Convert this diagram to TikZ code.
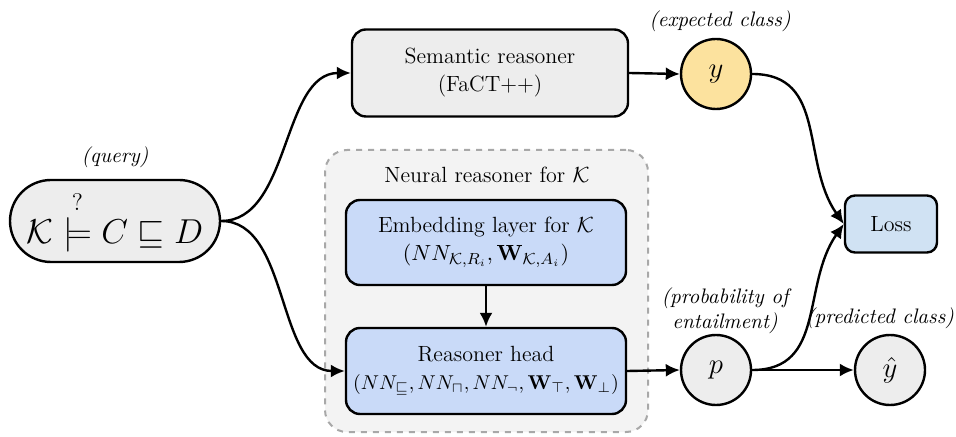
\documentclass[tikz,border=0pt]{standalone}
\usepackage{amsmath,amssymb}
\usetikzlibrary{arrows.meta,positioning}
\definecolor{boxgray}{HTML}{EDEDED}
\definecolor{contgray}{HTML}{F3F3F3}
\definecolor{dashgray}{HTML}{A8A8A8}
\definecolor{bluebox}{HTML}{C9DAF8}
\definecolor{lossblue}{HTML}{D0E2F3}
\definecolor{yellowc}{HTML}{FCE29E}
\begin{document}
\begin{tikzpicture}[x=0.5pt,y=-0.5pt,
  font=\fontsize{11}{13}\selectfont,
  every node/.style={inner sep=0pt},
  box/.style={draw=black,line width=1.2pt,rounded corners=7pt,align=center,fill=boxgray},
  circ/.style={draw=black,line width=1.2pt,circle,minimum size=35pt,fill=boxgray,font=\fontsize{15}{17}\selectfont},
  lbl/.style={font=\fontsize{10.5}{12.5}\selectfont\itshape,align=center},
  conn/.style={line width=1.2pt,-{Latex[length=7pt,width=6.5pt]}},
  plain/.style={line width=1.2pt}
]
\useasboundingbox (0,0) rectangle (956,437);
% container
\node[draw=dashgray,dashed,line width=1pt,fill=contgray,rounded corners=11pt,
      minimum width=161.5pt,minimum height=141pt] (cont) at (486.5,291) {};
\node (contlbl) at (487,175) {Neural reasoner for $\mathcal{K}$};
% query
\node[draw=black,line width=1.2pt,fill=boxgray,rounded corners=20.5pt,
      minimum width=105pt,minimum height=41pt,font=\fontsize{17}{19}\selectfont] (q) at (115,221)
      {$\mathcal{K}\stackrel{?}{\models} C\sqsubseteq D$};
\node[lbl] (qlbl) at (115,157) {(query)};
% semantic reasoner
\node[box,minimum width=138pt,minimum height=43.5pt] (sem) at (490,73)
      {Semantic reasoner\\[1pt](FaCT++)};
% y
\node[circ,fill=yellowc] (y) at (716,74) {$y$};
\node[lbl] (ylbl) at (720,21) {(expected class)};
% embedding
\node[box,fill=bluebox,minimum width=140pt,minimum height=42.5pt] (emb) at (486,242.5)
      {Embedding layer for $\mathcal{K}$\\[1pt]$(NN_{\mathcal{K},R_i},\mathbf{W}_{\mathcal{K},A_i})$};
% head
\node[box,fill=bluebox,minimum width=140pt,minimum height=43pt] (head) at (486,371)
      {Reasoner head\\[1pt]{\fontsize{10}{12}\selectfont$(NN_{\sqsubseteq},NN_{\sqcap},NN_{\neg},\mathbf{W}_{\top},\mathbf{W}_{\bot})$}};
% p
\node[circ] (p) at (716,370) {$p$};
\node[lbl] (plbl) at (725,311) {(probability of\\entailment)};
% yhat
\node[circ] (yh) at (890,370) {$\hat{y}$};
\node[lbl] (yhlbl) at (880,318) {(predicted class)};
% loss
\node[box,fill=lossblue,minimum width=46pt,minimum height=28.5pt,rounded corners=5pt] (loss) at (891,224) {Loss};
% connectors
\draw[conn] (q.east) to[out=0,in=180,looseness=0.9] (sem.west);
\draw[conn] (q.east) to[out=0,in=180,looseness=0.9] (head.west);
\draw[conn] (sem.east) -- (y.west);
\draw[conn] (emb.south) -- (head.north);
\draw[conn] (head.east) -- (p.west);
\draw[conn] (p.east) -- (yh.west);
\draw[conn] (y.east) to[out=0,in=125,looseness=1.1] (loss.west);
\draw[conn] (p.east) to[out=0,in=-125,looseness=1.1] (loss.west);
\end{tikzpicture}
\end{document}
